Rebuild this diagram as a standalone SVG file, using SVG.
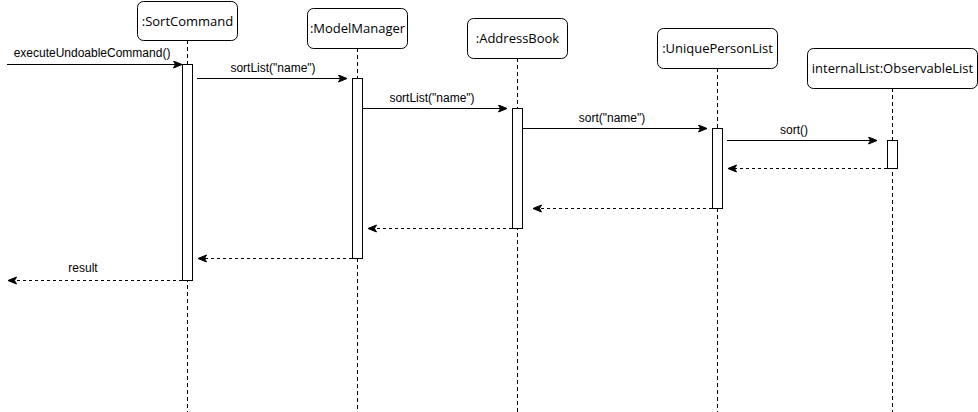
<svg xmlns="http://www.w3.org/2000/svg" width="978" height="412" viewBox="0 0 978 412">
<style>
.box{fill:#fff;stroke:#000;stroke-width:1}
.life{stroke:#000;stroke-width:1;stroke-dasharray:4 3;fill:none}
.act{fill:#fff;stroke:#000;stroke-width:1}
.msg{stroke:#000;stroke-width:1;fill:none}
.ret{stroke:#000;stroke-width:1;fill:none;stroke-dasharray:3 3}
.nt{font-family:"Open Sans","Liberation Sans",sans-serif;font-size:13px;fill:#000;text-anchor:middle}
.mt{font-family:"Liberation Sans",Arial,sans-serif;font-size:12px;fill:#000;text-anchor:middle}
</style>
<defs>
<marker id="arr" markerUnits="userSpaceOnUse" markerWidth="10" markerHeight="9" refX="9" refY="4" orient="auto">
<path d="M0.5,0.5 L9,4 L0.5,7.5 L2.5,4 Z" fill="#000" stroke="#000" stroke-width="1" stroke-linejoin="miter"/>
</marker>
</defs>
<rect width="978" height="412" fill="#fff"/>
<g id="lifelines">
<line class="life" x1="187.5" y1="40" x2="187.5" y2="412"/>
<line class="life" x1="357.5" y1="48" x2="357.5" y2="412"/>
<line class="life" x1="517.5" y1="58" x2="517.5" y2="412"/>
<line class="life" x1="717.5" y1="68" x2="717.5" y2="412"/>
<line class="life" x1="892.5" y1="88" x2="892.5" y2="412"/>
</g>
<g id="SortCommand">
<rect class="box" x="137.5" y="1.5" width="100" height="39" rx="6"/>
<text class="nt" x="187.5" y="25.5">:SortCommand</text>
<rect class="act" x="182.5" y="64.5" width="10" height="216"/>
</g>
<g id="ModelManager">
<rect class="box" x="307.5" y="8.5" width="100" height="40" rx="6"/>
<text class="nt" x="357.5" y="33">:ModelManager</text>
<rect class="act" x="352.5" y="78.5" width="10" height="180"/>
</g>
<g id="AddressBook">
<rect class="box" x="467.5" y="18.5" width="100" height="40" rx="6"/>
<text class="nt" x="517.5" y="43">:AddressBook</text>
<rect class="act" x="512.5" y="108.5" width="10" height="120"/>
</g>
<g id="UniquePersonList">
<rect class="box" x="657.5" y="28.5" width="120" height="40" rx="6"/>
<text class="nt" x="717.5" y="53">:UniquePersonList</text>
<rect class="act" x="712.5" y="128.5" width="10" height="80"/>
</g>
<g id="ObservableList">
<rect class="box" x="807.5" y="48.5" width="170" height="40" rx="6"/>
<text class="nt" x="892.5" y="73">internalList:ObservableList</text>
<rect class="act" x="887.5" y="140.5" width="10" height="28"/>
</g>
<g id="connectors">
<line class="msg" x1="7" y1="64.5" x2="182" y2="64.5" marker-end="url(#arr)"/>
<text class="mt" x="92" y="57">executeUndoableCommand()</text>
<line class="msg" x1="197" y1="78.5" x2="347" y2="78.5" marker-end="url(#arr)"/>
<text class="mt" x="273" y="72">sortList("name")</text>
<line class="msg" x1="362.5" y1="108.5" x2="507" y2="108.5" marker-end="url(#arr)"/>
<text class="mt" x="432" y="102">sortList("name")</text>
<line class="msg" x1="522.5" y1="128.5" x2="707" y2="128.5" marker-end="url(#arr)"/>
<text class="mt" x="612" y="122">sort("name")</text>
<line class="msg" x1="727" y1="140.5" x2="877" y2="140.5" marker-end="url(#arr)"/>
<text class="mt" x="794" y="134">sort()</text>
<line class="ret" x1="887" y1="168.5" x2="728" y2="168.5" marker-end="url(#arr)"/>
<line class="ret" x1="712" y1="208.5" x2="533" y2="208.5" marker-end="url(#arr)"/>
<line class="ret" x1="512" y1="228.5" x2="368" y2="228.5" marker-end="url(#arr)"/>
<line class="ret" x1="352" y1="258.5" x2="198" y2="258.5" marker-end="url(#arr)"/>
<line class="ret" x1="182" y1="280.5" x2="8" y2="280.5" marker-end="url(#arr)"/>
<text class="mt" x="83" y="272">result</text>
</g>
</svg>
